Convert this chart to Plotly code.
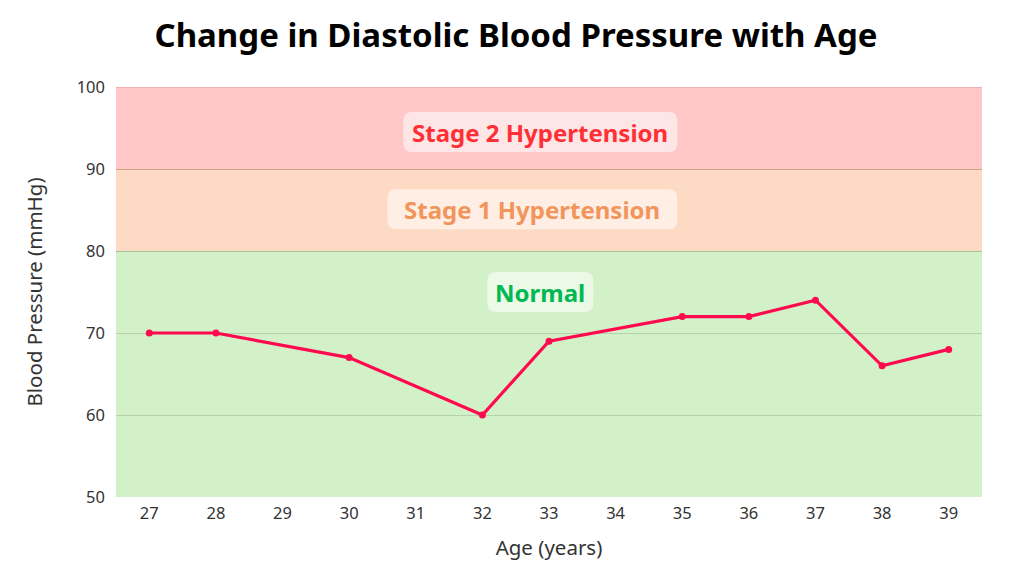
import plotly.graph_objects as go

# data
ages = [27, 28, 30, 32, 33, 35, 36, 37, 38, 39]
diastolic = [70, 70, 67, 60, 69, 72, 72, 74, 66, 68]

# pressure bands (lower, upper, label)
band_names = ["Normal", "Stage 1 Hypertension", "Stage 2 Hypertension"]
band_low = [50, 80, 90]
band_high = [80, 90, 100]
band_fill = ["#D3F1C8", "#FDDAC3", "#FFC7C7"]
band_edge = ["#BCD9A6", "#EDB48E", "#EFA7A7"]
band_text = ["#00B853", "#F2955A", "#FF3035"]
label_y = [75, 85.1, 94.5]
label_x = [32.87, 32.75, 32.87]
label_w = [106, 290, 274]   # pixel width of the rounded label boxes

x_ticks = list(range(27, 40))


def rounded_box(w, h, r):
    x0, x1, y0, y1 = -w / 2, w / 2, -h / 2, h / 2
    return (f"M {x0 + r},{y0} L {x1 - r},{y0} Q {x1},{y0} {x1},{y0 + r} "
            f"L {x1},{y1 - r} Q {x1},{y1} {x1 - r},{y1} L {x0 + r},{y1} "
            f"Q {x0},{y1} {x0},{y1 - r} L {x0},{y0 + r} Q {x0},{y0} {x0 + r},{y0} Z")


fig = go.Figure()

fig.add_trace(go.Scatter(
    x=ages, y=diastolic,
    mode="lines+markers",
    line=dict(color="#FF0A4E", width=3.2),
    marker=dict(color="#FF0A4E", size=7),
    showlegend=False,
))

for lo, hi, fill, edge in zip(band_low, band_high, band_fill, band_edge):
    fig.add_shape(type="rect", xref="paper", x0=0, x1=1, yref="y", y0=lo, y1=hi,
                  fillcolor=fill, line_width=0, layer="below")
    fig.add_shape(type="line", xref="paper", x0=0, x1=1, yref="y", y0=hi, y1=hi,
                  line=dict(color=edge, width=1.5), layer="below")

for name, lx, ly, lw, col in zip(band_names, label_x, label_y, label_w, band_text):
    fig.add_shape(type="path", xref="x", yref="y", xsizemode="pixel", ysizemode="pixel",
                  xanchor=lx, yanchor=ly, path=rounded_box(lw, 40, 9),
                  fillcolor="rgba(255,255,255,0.55)", line_width=0, layer="below")
    fig.add_annotation(
        x=lx, y=ly, text="<b>%s</b>" % name,
        showarrow=False, font=dict(family="Noto Sans", size=24, color=col),
    )

# page has an 8px body margin, so figure is a bit smaller than the window
fig.update_layout(
    width=1016, height=568,
    margin=dict(l=108, r=42, t=79, b=79),
    plot_bgcolor="white", paper_bgcolor="white",
    font=dict(family="Noto Sans", size=16.5, color="#333333"),
    title=dict(text="<b>Change in Diastolic Blood Pressure with Age</b>",
               x=0.5, xanchor="center", y=0.952, yanchor="middle",
               font=dict(family="Noto Sans", size=33, color="black")),
    xaxis=dict(range=[26.5, 39.5], tickvals=x_ticks, showgrid=False, zeroline=False,
               ticks="", ticklabelstandoff=4,
               title=dict(text="Age (years)", font=dict(size=20.5), standoff=18)),
    yaxis=dict(range=[50, 100], dtick=10, showgrid=True, gridcolor="rgba(0,0,0,0.13)",
               zeroline=False, ticks="", ticklabelstandoff=10,
               title=dict(text="Blood Pressure (mmHg)", font=dict(size=20.5), standoff=28)),
)

fig.write_html("out.html")
